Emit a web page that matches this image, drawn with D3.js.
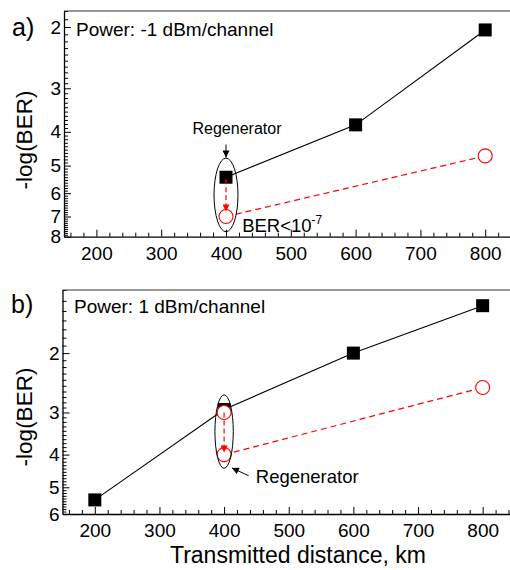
<!DOCTYPE html>
<html>
<head>
<meta charset="utf-8">
<script src="https://cdn.jsdelivr.net/npm/d3@7/dist/d3.min.js"></script>
<style>
  html, body { margin: 0; padding: 0; background: #fff; }
  svg { display: block; }
  text { font-family: "Liberation Sans", Arial, Helvetica, sans-serif; fill: #000; }
</style>
</head>
<body>
<svg id="chart" width="510" height="570"></svg>
<script>
// ---------------- data ----------------
const xMajorTicks = [200, 300, 400, 500, 600, 700, 800];
const yTicksA = [2, 3, 4, 5, 6, 7, 8];
const yTicksB = [2, 3, 4, 5, 6];

// Panel a) Power: -1 dBm/channel
const aDist = [400, 600, 800];
const aBER = [5.4, 3.82, 2.04];           // without regeneration (black squares)
const aRegDist = [400, 800];
const aRegBER = [7.0, 4.69];              // with regenerator (red circles)

// Panel b) Power: 1 dBm/channel
const bDist = [200, 400, 600, 800];
const bBER = [5.45, 2.94, 2.0, 1.447];    // without regeneration (black squares)
const bRegDist = [400, 800];
const bRegBER = [4.0, 2.53];              // with regenerator (red circles, dashed)
const bRegInDist = [400];
const bRegInBER = [3.0];                  // signal before regenerator (red circle)

// ---------------- drawing ----------------
const svg = d3.select("#chart");
const defs = svg.append("defs");
function marker(id, color) {
  defs.append("marker")
    .attr("id", id)
    .attr("viewBox", "0 0 10 10")
    .attr("refX", 10).attr("refY", 5)
    .attr("markerUnits", "userSpaceOnUse")
    .attr("markerWidth", 9).attr("markerHeight", 7)
    .attr("orient", "auto")
    .append("path")
    .attr("d", "M0,0 L10,5 L0,10 Z")
    .attr("fill", color);
}
marker("arrBlack", "#000");
marker("arrRed", "#ff0000");

const FONT = '"Liberation Sans", Arial, Helvetica, sans-serif';

function minorRange(lo, hi, step) {
  const out = [];
  for (let v = Math.ceil(lo / step - 1e-9) * step; v <= hi + 1e-9; v += step) {
    out.push(+v.toFixed(4));
  }
  return out;
}

function drawPanel(cfg) {
  const g = svg.append("g");
  const x = d3.scaleLinear().domain([150, 850]).range([cfg.left, cfg.left + 700 * cfg.kx]);
  const y = d3.scaleLog().domain(cfg.yDomain).range([cfg.top, cfg.bottom]);

  // minor ticks
  const xMinor = minorRange(160, 840, 20).filter(v => Math.abs(v % 100) > 1e-6);
  g.append("g").attr("transform", `translate(0,${cfg.bottom})`)
    .call(d3.axisBottom(x).tickValues(xMinor).tickSizeInner(-4).tickSizeOuter(0).tickFormat(""))
    .call(s => s.select(".domain").remove());
  const yMinor = minorRange(cfg.yDomain[0], cfg.yDomain[1], 0.1)
    .filter(v => Math.abs(v - Math.round(v)) > 1e-6);
  g.append("g").attr("transform", `translate(${cfg.left},0)`)
    .call(d3.axisLeft(y).tickValues(yMinor).tickSizeInner(-4).tickSizeOuter(0).tickFormat(""))
    .call(s => s.select(".domain").remove());

  // major axes
  const xa = g.append("g").attr("transform", `translate(0,${cfg.bottom})`)
    .call(d3.axisBottom(x).tickValues(xMajorTicks).tickSizeInner(-7).tickSizeOuter(0)
      .tickPadding(10).tickFormat(d3.format("d")));
  xa.selectAll("text").style("font-size", "19px").style("font-family", FONT);
  const ya = g.append("g").attr("transform", `translate(${cfg.left},0)`)
    .call(d3.axisLeft(y).tickValues(cfg.yTicks).tickSizeInner(-7).tickSizeOuter(0)
      .tickPadding(3).tickFormat(d3.format("d")));
  ya.selectAll("text").style("font-size", "19px").style("font-family", FONT);
  g.selectAll(".domain").attr("stroke", "#000").attr("stroke-width", 1.3);
  g.selectAll(".tick line").attr("stroke", "#000");

  // top frame
  g.append("line").attr("x1", cfg.left).attr("x2", 510)
    .attr("y1", cfg.top).attr("y2", cfg.top).attr("stroke", "#333").attr("stroke-width", 1.2);

  // panel label
  g.append("text").attr("x", cfg.labelX).attr("y", cfg.labelY)
    .style("font-size", "25px").text(cfg.label);
  // power text
  g.append("text").attr("x", cfg.powerX).attr("y", cfg.powerY)
    .style("font-size", "19px").text(cfg.power);
  // y title
  g.append("text")
    .attr("transform", `translate(${cfg.yTitleX},${cfg.yTitleY}) rotate(-90)`)
    .attr("text-anchor", "middle")
    .style("font-size", "22.5px").text("-log(BER)");

  return { g, x, y };
}

function squares(g, x, y, xs, ys) {
  const line = d3.line().x((d, i) => x(xs[i])).y((d, i) => y(ys[i]));
  g.append("path").attr("d", line(ys)).attr("fill", "none")
    .attr("stroke", "#000").attr("stroke-width", 1.1);
  g.selectAll(null).data(ys).enter().append("rect")
    .attr("x", (d, i) => x(xs[i]) - 6.5).attr("y", d => y(d) - 6.5)
    .attr("width", 13).attr("height", 13).attr("fill", "#000");
}
function circles(g, x, y, xs, ys, withLine) {
  if (withLine) {
    const line = d3.line().x((d, i) => x(xs[i])).y((d, i) => y(ys[i]));
    g.append("path").attr("d", line(ys)).attr("fill", "none")
      .attr("stroke", "#ff0000").attr("stroke-width", 1.2).attr("stroke-dasharray", "6,4");
  }
  g.selectAll(null).data(ys).enter().append("circle")
    .attr("cx", (d, i) => x(xs[i])).attr("cy", d => y(d)).attr("r", 7)
    .attr("fill", "#fff").attr("stroke", "#ff0000").attr("stroke-width", 1.1);
}

// ----- panel a -----
const A = drawPanel({
  left: 64, kx: 0.648, top: 11, bottom: 236.7, yDomain: [1.8, 8], yTicks: yTicksA,
  label: "a)", labelX: 12, labelY: 36,
  power: "Power: -1 dBm/channel", powerX: 76, powerY: 36,
  yTitleX: 32, yTitleY: 140
});
squares(A.g, A.x, A.y, aDist, aBER);
circles(A.g, A.x, A.y, aRegDist, aRegBER, true);
// regenerator arrow (red dashed, vertical)
A.g.append("line")
  .attr("x1", A.x(400)).attr("x2", A.x(400))
  .attr("y1", A.y(aBER[0]) + 2).attr("y2", A.y(aRegBER[0]) - 5)
  .attr("stroke", "#ff0000").attr("stroke-width", 1.2).attr("stroke-dasharray", "5,3")
  .attr("marker-end", "url(#arrRed)");
// ellipse
A.g.append("ellipse")
  .attr("cx", A.x(400)).attr("cy", (A.y(4.76) + A.y(7.74)) / 2)
  .attr("rx", A.x(418.5) - A.x(400)).attr("ry", (A.y(7.74) - A.y(4.76)) / 2)
  .attr("fill", "none").attr("stroke", "#000").attr("stroke-width", 1);
// label + arrow
A.g.append("text").attr("x", A.x(400) + 11).attr("y", A.y(4.05))
  .attr("text-anchor", "middle").style("font-size", "16px").text("Regenerator");
A.g.append("line")
  .attr("x1", A.x(400)).attr("x2", A.x(400))
  .attr("y1", A.y(4.35)).attr("y2", A.y(4.74))
  .attr("stroke", "#000").attr("stroke-width", 1).attr("marker-end", "url(#arrBlack)");
const berT = A.g.append("text").attr("x", A.x(425)).attr("y", A.y(7.78))
  .style("font-size", "18.5px");
berT.append("tspan").text("BER<10");
berT.append("tspan").attr("dy", -8).style("font-size", "12px").text("-7");

// ----- panel b -----
const B = drawPanel({
  left: 62.5, kx: 0.6464, top: 290, bottom: 514, yDomain: [1.3, 6], yTicks: yTicksB,
  label: "b)", labelX: 11, labelY: 313,
  power: "Power: 1 dBm/channel", powerX: 74, powerY: 313,
  yTitleX: 32, yTitleY: 417
});
squares(B.g, B.x, B.y, bDist, bBER);
circles(B.g, B.x, B.y, bRegDist, bRegBER, true);
circles(B.g, B.x, B.y, bRegInDist, bRegInBER, false);
B.g.append("line")
  .attr("x1", B.x(400)).attr("x2", B.x(400))
  .attr("y1", B.y(bRegInBER[0])).attr("y2", B.y(bRegBER[0]) - 2)
  .attr("stroke", "#ff0000").attr("stroke-width", 1.2).attr("stroke-dasharray", "5,3")
  .attr("marker-end", "url(#arrRed)");
B.g.append("ellipse")
  .attr("cx", B.x(400)).attr("cy", (B.y(2.66) + B.y(4.39)) / 2)
  .attr("rx", B.x(414.2) - B.x(400)).attr("ry", (B.y(4.39) - B.y(2.66)) / 2)
  .attr("fill", "none").attr("stroke", "#000").attr("stroke-width", 1);
B.g.append("text").attr("x", B.x(449)).attr("y", B.y(4.85))
  .style("font-size", "18.5px").text("Regenerator");
B.g.append("line")
  .attr("x1", B.x(438)).attr("x2", B.x(412))
  .attr("y1", B.y(4.62)).attr("y2", B.y(4.38))
  .attr("stroke", "#000").attr("stroke-width", 1).attr("marker-end", "url(#arrBlack)");

// x title
svg.append("text").attr("x", 298).attr("y", 563).attr("text-anchor", "middle")
  .style("font-size", "23px").text("Transmitted distance, km");
</script>
</body>
</html>
